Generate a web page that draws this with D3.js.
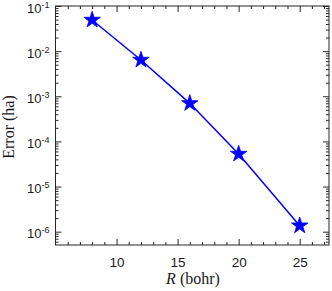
<!DOCTYPE html>
<html lang="en">
<head>
<meta charset="UTF-8">
<title>Error vs R</title>
<script src="https://cdn.jsdelivr.net/npm/d3@7"></script>
<style>
    body { margin: 0; background: #fff; }
    .tick text { font-family: "Liberation Sans", Arial, sans-serif; }
</style>
</head>
<body>
<script>
const rValues = [8, 12, 16, 20, 25];
const errValues = [0.049, 0.00637, 0.000698, 0.0000526, 0.00000136];
const xMajorTicks = [10, 15, 20, 25];
const yExponents = [-1, -2, -3, -4, -5, -6];

const width = 332, height = 291;
const plotLeft = 55.5, plotRight = 329, plotTop = 6, plotBottom = 245;

const svg = d3.select("body").append("svg")
    .attr("width", width)
    .attr("height", height);

const x = d3.scaleLinear().domain([5, 27.4]).range([plotLeft, plotRight]);
const y = d3.scaleLog().domain([Math.pow(10, -6.295), 0.1]).range([plotBottom, plotTop]);

const axisColor = "#262626";

// minor ticks
const xMinor = d3.range(6, 28).filter(v => xMajorTicks.indexOf(v) < 0);
const yMinor = [];
for (let e = -7; e <= -2; e++) {
    for (let k = 2; k <= 9; k++) {
        const v = k * Math.pow(10, e);
        if (v >= y.domain()[0] && v <= 0.1) yMinor.push(v);
    }
}

function styleAxis(g) {
    g.select(".domain").remove();
    g.selectAll("line").attr("stroke", axisColor);
}

svg.append("g").attr("transform", `translate(0,${plotBottom})`)
    .call(d3.axisBottom(x).tickValues(xMinor).tickSize(-3).tickFormat(""))
    .call(styleAxis);
svg.append("g").attr("transform", `translate(0,${plotTop})`)
    .call(d3.axisTop(x).tickValues(xMinor).tickSize(-3).tickFormat(""))
    .call(styleAxis);
svg.append("g").attr("transform", `translate(${plotLeft},0)`)
    .call(d3.axisLeft(y).tickValues(yMinor).tickSize(-3).tickFormat(""))
    .call(styleAxis);
svg.append("g").attr("transform", `translate(${plotRight},0)`)
    .call(d3.axisRight(y).tickValues(yMinor).tickSize(-3).tickFormat(""))
    .call(styleAxis);

// major ticks
const yMajor = yExponents.map(e => Math.pow(10, e));

svg.append("g").attr("transform", `translate(0,${plotBottom})`)
    .call(d3.axisBottom(x).tickValues(xMajorTicks).tickSize(-6).tickPadding(12).tickFormat(d3.format("d")))
    .call(styleAxis)
    .call(g => g.selectAll("text").attr("font-size", 13.5).attr("fill", "#1a1a1a"));
svg.append("g").attr("transform", `translate(0,${plotTop})`)
    .call(d3.axisTop(x).tickValues(xMajorTicks).tickSize(-6).tickFormat(""))
    .call(styleAxis);

svg.append("g").attr("transform", `translate(${plotLeft},0)`)
    .call(d3.axisLeft(y).tickValues(yMajor).tickSize(-6).tickFormat(""))
    .call(styleAxis);
svg.append("g").attr("transform", `translate(${plotRight},0)`)
    .call(d3.axisRight(y).tickValues(yMajor).tickSize(-6).tickFormat(""))
    .call(styleAxis);

// y tick labels with superscripts
yExponents.forEach(e => {
    const t = svg.append("text")
        .attr("x", plotLeft - 6)
        .attr("y", y(Math.pow(10, e)) + 6.5)
        .attr("text-anchor", "end")
        .attr("font-family", "Liberation Sans, Arial, sans-serif")
        .attr("font-size", 13)
        .attr("fill", "#1a1a1a");
    t.append("tspan").text("10");
    t.append("tspan").attr("dy", -5).attr("font-size", 9).text("-" + Math.abs(e));
});

// box
svg.append("rect")
    .attr("x", plotLeft).attr("y", plotTop)
    .attr("width", plotRight - plotLeft).attr("height", plotBottom - plotTop)
    .attr("fill", "none").attr("stroke", axisColor).attr("stroke-width", 1);

// line
const line = d3.line().x((d, i) => x(rValues[i])).y(d => y(d));
svg.append("path")
    .datum(errValues)
    .attr("d", line)
    .attr("fill", "none")
    .attr("stroke", "#0000ff")
    .attr("stroke-width", 1.5);

// star markers
const star = d3.symbol().type(d3.symbolStar).size(85);
svg.selectAll(".star")
    .data(errValues)
    .enter()
    .append("path")
    .attr("class", "star")
    .attr("transform", (d, i) => `translate(${x(rValues[i])},${y(d)})`)
    .attr("d", star)
    .attr("fill", "#0000ff")
    .attr("stroke", "#0000ff")
    .attr("stroke-width", 0.8);

// axis labels
const xl = svg.append("text")
    .attr("x", 193)
    .attr("y", 284)
    .attr("text-anchor", "middle")
    .attr("font-family", "Liberation Serif, Times New Roman, serif")
    .attr("font-size", 16)
    .attr("fill", "#1a1a1a");
xl.append("tspan").attr("font-style", "italic").text("R");
xl.append("tspan").text(" (bohr)");

svg.append("text")
    .attr("transform", `translate(14,127) rotate(-90)`)
    .attr("text-anchor", "middle")
    .attr("font-family", "Liberation Serif, Times New Roman, serif")
    .attr("font-size", 16)
    .attr("fill", "#1a1a1a")
    .text("Error (ha)");
</script>
</body>
</html>
